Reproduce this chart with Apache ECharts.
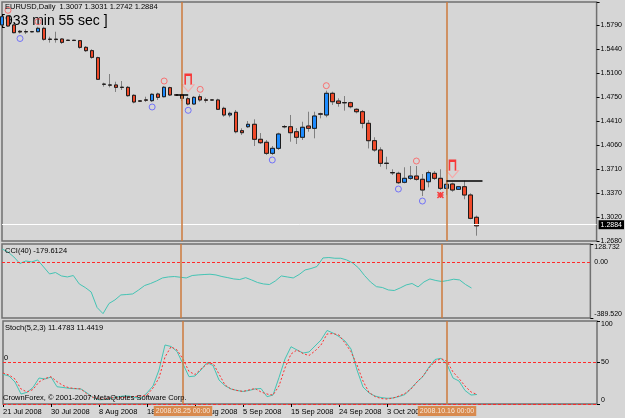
<!DOCTYPE html>
<html>
<head>
<meta charset="utf-8">
<script src="https://cdn.jsdelivr.net/npm/echarts@6/dist/echarts.min.js"></script>
<style>
html, body { margin: 0; padding: 0; background: #d6d6d6; }
#chart { width: 625px; height: 418px; }
</style>
</head>
<body>
<div id="chart"></div>
<script>
// daily bars (broker feed has Sunday bars)
var dates = ['2008.07.21','2008.07.22','2008.07.23','2008.07.24','2008.07.25','2008.07.27','2008.07.28','2008.07.29','2008.07.30','2008.07.31',
    '2008.08.01','2008.08.03','2008.08.04','2008.08.05','2008.08.06','2008.08.07','2008.08.08','2008.08.10','2008.08.11','2008.08.12',
    '2008.08.13','2008.08.14','2008.08.15','2008.08.17','2008.08.18','2008.08.19','2008.08.20','2008.08.21','2008.08.22','2008.08.24',
    '2008.08.25','2008.08.26','2008.08.27','2008.08.28','2008.08.29','2008.08.31','2008.09.01','2008.09.02','2008.09.03','2008.09.04',
    '2008.09.05','2008.09.07','2008.09.08','2008.09.09','2008.09.10','2008.09.11','2008.09.12','2008.09.14','2008.09.15','2008.09.16',
    '2008.09.17','2008.09.18','2008.09.19','2008.09.21','2008.09.22','2008.09.23','2008.09.24','2008.09.25','2008.09.26','2008.09.28',
    '2008.09.29','2008.09.30','2008.10.01','2008.10.02','2008.10.03','2008.10.05','2008.10.06','2008.10.07','2008.10.08','2008.10.09',
    '2008.10.10','2008.10.13','2008.10.14','2008.10.15','2008.10.16','2008.10.17','2008.10.19','2008.10.20','2008.10.21','2008.10.22'];

var opens = [1.5776,1.5905,1.5776,1.5685,1.5681,1.5680,1.5679,1.5728,1.5572,1.5572,
    1.5574,1.5557,1.5556,1.5550,1.5454,1.5406,1.5305,1.4924,1.4912,1.4912,
    1.4880,1.4878,1.4763,1.4683,1.4697,1.4686,1.4782,1.4743,1.4873,1.4770,
    1.4768,1.4714,1.4638,1.4743,1.4698,1.4697,1.4696,1.4576,1.4480,1.4519,
    1.4254,1.4311,1.4346,1.4130,1.4087,1.3928,1.4000,1.4314,1.4311,1.4239,
    1.4159,1.4321,1.4288,1.4496,1.4480,1.4792,1.4681,1.4659,1.4657,1.4562,
    1.4527,1.4360,1.4110,1.3976,1.3786,1.3651,1.3640,1.3511,1.3568,1.3601,
    1.3554,1.3519,1.3640,1.3568,1.3424,1.3486,1.3410,1.3447,1.3328,1.3007];
var highs = [1.5920,1.5915,1.5790,1.5704,1.5714,1.5690,1.5751,1.5751,1.5607,1.5679,
    1.5584,1.5565,1.5562,1.5560,1.5473,1.5426,1.5319,1.4945,1.5070,1.4959,
    1.4969,1.4897,1.4778,1.4695,1.4743,1.4792,1.4801,1.4897,1.4887,1.4780,
    1.4790,1.4743,1.4752,1.4777,1.4729,1.4706,1.4714,1.4599,1.4527,1.4552,
    1.4288,1.4393,1.4418,1.4220,1.4120,1.4033,1.4225,1.4336,1.4480,1.4292,
    1.4383,1.4527,1.4527,1.4513,1.4830,1.4815,1.4720,1.4753,1.4671,1.4576,
    1.4552,1.4408,1.4159,1.4015,1.3879,1.3698,1.3663,1.3727,1.3745,1.3745,
    1.3630,1.3678,1.3673,1.3698,1.3519,1.3505,1.3457,1.3534,1.3352,1.3031];
var lows = [1.5747,1.5747,1.5656,1.5653,1.5646,1.5670,1.5670,1.5550,1.5521,1.5521,
    1.5502,1.5545,1.5548,1.5434,1.5387,1.5290,1.4984,1.4888,1.4878,1.4811,
    1.4840,1.4743,1.4648,1.4667,1.4667,1.4667,1.4696,1.4734,1.4753,1.4755,
    1.4681,1.4619,1.4628,1.4671,1.4657,1.4686,1.4552,1.4455,1.4447,1.4216,
    1.4192,1.4292,1.4033,1.4062,1.3904,1.3904,1.3976,1.4288,1.4095,1.4062,
    1.4120,1.4239,1.4144,1.4432,1.4447,1.4624,1.4599,1.4542,1.4576,1.4504,
    1.4288,1.3998,1.3951,1.3735,1.3698,1.3616,1.3486,1.3496,1.3544,1.3534,
    1.3313,1.3438,1.3544,1.3400,1.3328,1.3375,1.3400,1.3266,1.2978,1.2742];
var closes = [1.5895,1.5761,1.5665,1.5675,1.5677,1.5678,1.5728,1.5570,1.5568,1.5566,
    1.5526,1.5553,1.5552,1.5454,1.5406,1.5310,1.4994,1.4922,1.4910,1.4878,
    1.4876,1.4758,1.4667,1.4679,1.4693,1.4778,1.4734,1.4879,1.4768,1.4766,
    1.4720,1.4638,1.4734,1.4696,1.4692,1.4695,1.4562,1.4480,1.4504,1.4239,
    1.4225,1.4346,1.4130,1.4081,1.3928,1.4000,1.4206,1.4309,1.4225,1.4159,
    1.4303,1.4288,1.4465,1.4492,1.4792,1.4671,1.4648,1.4655,1.4599,1.4527,
    1.4360,1.4110,1.3976,1.3784,1.3782,1.3647,1.3505,1.3568,1.3601,1.3554,
    1.3400,1.3649,1.3568,1.3424,1.3482,1.3400,1.3447,1.3328,1.2992,1.2884];

var cci = [94,73,38,-8,10,3,17,-32,-81,-71,
    -95,-102,-92,-151,-176,-207,-316,-359,-288,-263,
    -228,-225,-221,-193,-162,-148,-130,-109,-102,-99,
    -104,-109,-92,-88,-85,-83,-88,-99,-107,-116,
    -120,-107,-123,-141,-151,-155,-130,-95,-102,-109,
    -85,-53,-43,-29,31,34,29,29,17,-4,
    -39,-92,-137,-170,-176,-193,-197,-179,-158,-148,
    -172,-137,-116,-127,-134,-127,-118,-123,-155,-179.6124];

var stochMain = [35.8,33.7,26.5,12,14.1,19.9,31.3,30.1,32.5,20.8,
    19.9,18.9,18.4,18.1,13.3,7.8,5.1,5.4,6.9,8.4,
    9.6,9.6,7.8,6.9,13.3,21.7,41,71.1,69.3,63.3,
    48.2,32.9,33.7,41,50,46.4,28.9,22,18.1,16.3,
    15.1,16.3,18.1,18.7,8.8,10.8,31.9,54.2,69,65.1,
    61.4,62.7,69.9,77.1,88.6,85.5,81.3,75.9,66.3,41,
    20.5,13.3,9.6,7.8,6.9,7.2,9,11.4,18.7,26.5,
    33.1,44.6,53.6,55.1,47.6,31.3,27.7,16.3,10.8,11.4783];
var stochSignal = [37.3,34.9,30.1,18.1,14.5,17.5,26.5,30.7,32.9,26.9,
    22.3,19.5,18.7,18.1,12,8.1,6,6,7.6,7.6,
    7.8,8.4,9,9.6,10.8,19.3,31.3,56.6,69,65.1,
    54.2,39.2,35.5,42.2,48.2,49,36.1,22.9,18.1,16.3,
    15.1,16.9,18.7,14.5,12,10.8,21.7,43.4,60.2,65.1,
    60.8,58.4,63.9,71.1,84.3,84.9,83.1,73.5,63,47,
    27.7,13.9,9,6.6,6,7.2,9.6,12.7,18.1,26.5,
    33.7,43.4,51.2,54.8,51.4,38.6,30.7,21.7,14.5,11.4419];

var priceTicks = ['1.2680','1.3020','1.3370','1.3710','1.4060','1.4410','1.4750','1.5100','1.5440','1.5790'];
var xLabelIdx = [0, 8, 16, 24, 32, 40, 48, 56, 64];
var xLabels = ['21 Jul 2008','30 Jul 2008','8 Aug 2008','18 Aug 2008','27 Aug 2008','5 Sep 2008','15 Sep 2008','24 Sep 2008','3 Oct 2008'];

var fractalUp = [1, 6, 27, 33, 54, 69];
var fractalDown = [3, 25, 31, 45, 66, 70];
var arrowBars = [31, 75];
var crossBars = [73];
var vLines = ['2008.08.25', '2008.10.16'];
var hSegments = [[29, 31, 1.4768], [74, 80, 1.3534]];
var lastPrice = 1.2884;
var priceMin = 1.26656, priceMax = 1.61067;
var cciMin = -389.52, cciMax = 128.732;
var stochLevels = [0, 50];

var FONT = 'Liberation Sans, Arial, sans-serif';
var UP = '#1e8cff', DOWN = '#f04a2a', TEAL = '#44c4b4', VCOL = '#cc7a3c';
var TOTAL = 100;

var cats = dates.slice();
for (var k = dates.length; k < TOTAL; k++) cats.push('n' + k);

var candle = dates.map(function (d, i) { return [opens[i], closes[i], lows[i], highs[i]]; });
var bodies = dates.map(function (d, i) {
    return [opens[i], closes[i], Math.min(opens[i], closes[i]), Math.max(opens[i], closes[i])];
});
var last = dates.length - 1;

var vLineStyle = { color: VCOL, width: 1.5, type: 'solid' };
// vertical event lines as explicit segments spanning a panel's value range
function vLineData(lo, hi, withLabel) {
    return vLines.map(function (d) {
        var idx = dates.indexOf(d);
        var start = { coord: [idx, lo], lineStyle: vLineStyle };
        if (withLabel) {
            start.label = {
                show: true, position: 'start', distance: 2, formatter: d + ' 00:00',
                backgroundColor: '#d88a4e', color: '#f6e8da', padding: [2, 2, 1, 2],
                fontSize: 7, fontFamily: FONT
            };
        }
        return [start, { coord: [idx, hi] }];
    });
}

var textStyle = { fontSize: 7.5, fontWeight: 'normal', color: '#000', fontFamily: FONT };
function txt(s, left, top, extra) {
    return { text: s, left: left, top: top, padding: 0, textStyle: Object.assign({}, textStyle, extra || {}) };
}

var titles = [
    txt('EURUSD,Daily  ' + [opens[last], highs[last], lows[last], closes[last]].map(function (v) { return v.toFixed(4); }).join(' '), 5, 3),
    Object.assign(txt('[933 min 55 sec ]', 1, 14, { fontSize: 14 }), { z: 0 }),
    txt('CCI(40) ' + cci[last].toFixed(4), 5, 247),
    txt('Stoch(5,2,3) ' + stochMain[last].toFixed(4) + ' ' + stochSignal[last].toFixed(4), 5, 324),
    txt('CrownForex, \u00a9 2001-2007 MetaQuotes Software Corp.', 3, 394),
    txt('0', 4, 354)
];

var gridBase = { left: 2, right: 28, show: true, borderColor: '#707070', borderWidth: 1.5, backgroundColor: 'transparent' };

var option = {
    backgroundColor: '#d6d6d6',
    animation: false,
    title: titles,
    grid: [
        Object.assign({ top: 2, height: 239 }, gridBase),
        Object.assign({ top: 244, height: 74 }, gridBase),
        Object.assign({ top: 321, height: 83 }, gridBase)
    ],
    xAxis: [0, 1, 2].map(function (g) {
        var ax = {
            type: 'category', gridIndex: g, data: cats, boundaryGap: false,
            axisLine: { show: false }, axisTick: { show: false }, axisLabel: { show: false },
            splitLine: { show: false }
        };
        if (g === 2) {
            ax.axisLabel = {
                show: true, align: 'left', margin: 4, fontSize: 7.5, color: '#000', fontFamily: FONT,
                interval: function (idx) { return xLabelIdx.indexOf(idx) >= 0; },
                formatter: function (v, idx) { var p = xLabelIdx.indexOf(idx); return p >= 0 ? xLabels[p] : ''; }
            };
            ax.axisTick = {
                show: true, length: 3, lineStyle: { color: '#000' },
                interval: function (idx) { return xLabelIdx.indexOf(idx) >= 0; }
            };
        }
        return ax;
    }),
    yAxis: [
        { type: 'value', gridIndex: 0, min: priceMin, max: priceMax, show: false },
        {
            type: 'value', gridIndex: 0, position: 'right', min: 0, max: 239 / 24, interval: 1,
            axisLine: { show: false }, splitLine: { show: false },
            axisTick: { show: true, length: 3, lineStyle: { color: '#000' } },
            axisLabel: {
                margin: 4, fontSize: 7, color: '#000', fontFamily: FONT,
                formatter: function (v) { return (Math.abs(v - Math.round(v)) < 1e-6 && priceTicks[Math.round(v)]) || ''; }
            }
        },
        {
            type: 'value', gridIndex: 1, position: 'right', min: cciMin, max: cciMax, interval: cciMax - cciMin,
            axisLine: { show: false }, splitLine: { show: false },
            axisTick: { show: true, length: 3, lineStyle: { color: '#000' } },
            axisLabel: {
                margin: 4, fontSize: 7, color: '#000', fontFamily: FONT,
                verticalAlignMinLabel: 'bottom', verticalAlignMaxLabel: 'top',
                formatter: function (v) { return v.toFixed(3); }
            }
        },
        {
            type: 'value', gridIndex: 2, position: 'right', min: 0, max: 100, interval: 50,
            axisLine: { show: false }, splitLine: { show: false },
            axisTick: { show: true, length: 3, lineStyle: { color: '#000' } },
            axisLabel: {
                margin: 4, fontSize: 7, color: '#000', fontFamily: FONT,
                verticalAlignMinLabel: 'bottom', verticalAlignMaxLabel: 'top'
            }
        }
    ],
    series: [
        {
            name: 'wicks', type: 'candlestick', xAxisIndex: 0, yAxisIndex: 0, data: candle,
            barWidth: 4, silent: true,
            itemStyle: { color: UP, color0: DOWN, borderColor: '#808080', borderColor0: '#808080', borderWidth: 1 },
            markLine: {
                silent: true, symbol: ['none', 'none'], animation: false,
                label: { show: false },
                data: [
                    {
                        yAxis: lastPrice, lineStyle: { color: '#ffffff', width: 1, type: 'solid' },
                        label: {
                            show: true, position: 'end', distance: 2, formatter: lastPrice.toFixed(4),
                            backgroundColor: '#000', color: '#fff', padding: [1, 2, 1, 2],
                            fontSize: 7, fontFamily: FONT
                        }
                    }
                ].concat(vLineData(priceMin, priceMax, false))
                 .concat(hSegments.map(function (s) {
                    return [{ coord: [s[0], s[2]], lineStyle: { color: '#000', width: 1.5, type: 'solid' } },
                            { coord: [s[1], s[2]] }];
                 }))
            }
        },
        {
            name: 'bodies', type: 'candlestick', xAxisIndex: 0, yAxisIndex: 0, data: bodies,
            barWidth: 4, silent: true,
            itemStyle: { color: UP, color0: DOWN, borderColor: '#1c1c1c', borderColor0: '#1c1c1c', borderWidth: 1 }
        },
        {
            name: 'fractal up', type: 'scatter', xAxisIndex: 0, yAxisIndex: 0, silent: true,
            data: fractalUp.map(function (i) { return [i, highs[i]]; }),
            symbol: 'circle', symbolSize: 6, symbolOffset: [0, -5],
            itemStyle: { color: 'rgba(0,0,0,0)', borderColor: '#ff5a5a', borderWidth: 1 }
        },
        {
            name: 'fractal down', type: 'scatter', xAxisIndex: 0, yAxisIndex: 0, silent: true,
            data: fractalDown.map(function (i) { return [i, lows[i]]; }),
            symbol: 'circle', symbolSize: 6, symbolOffset: [0, 5],
            itemStyle: { color: 'rgba(0,0,0,0)', borderColor: '#5a5aff', borderWidth: 1 }
        },
        {
            name: 'arrow shaft', type: 'scatter', xAxisIndex: 0, yAxisIndex: 0, silent: true,
            data: arrowBars.map(function (i) { return [i, highs[i]]; }),
            symbol: 'path://M0,10L0,0L6,0L6,10', symbolSize: [6, 10], symbolOffset: [0, -17],
            itemStyle: { color: 'rgba(0,0,0,0)', borderColor: '#ff1010', borderWidth: 2 }
        },
        {
            name: 'arrow head', type: 'scatter', xAxisIndex: 0, yAxisIndex: 0, silent: true,
            data: arrowBars.map(function (i) { return [i, highs[i]]; }),
            symbol: 'path://M3,0L0,0L6,7L12,0L9,0', symbolSize: [12, 7], symbolOffset: [0, -8.5],
            itemStyle: { color: 'rgba(0,0,0,0)', borderColor: '#ff9c9c', borderWidth: 1 }
        },
        {
            name: 'cross', type: 'scatter', xAxisIndex: 0, yAxisIndex: 0, silent: true,
            data: crossBars.map(function (i) { return [i, lows[i]]; }),
            symbol: 'path://M0,0L6,6M6,0L0,6M3,0L3,6M0,3L6,3', symbolSize: 6, symbolOffset: [0, 5],
            itemStyle: { color: 'rgba(0,0,0,0)', borderColor: '#ff1a1a', borderWidth: 1.5 }
        },
        {
            name: 'CCI', type: 'line', xAxisIndex: 1, yAxisIndex: 2, data: cci, showSymbol: false, silent: true,
            lineStyle: { color: TEAL, width: 1 },
            markLine: {
                silent: true, symbol: ['none', 'none'], animation: false, label: { show: false },
                data: [
                    {
                        yAxis: 0, lineStyle: { color: '#ff2a2a', width: 1, type: [3, 2] },
                        label: { show: true, position: 'end', distance: 4, formatter: '0.00', fontSize: 7, color: '#000', fontFamily: FONT }
                    }
                ].concat(vLineData(cciMin, cciMax, false))
            }
        },
        {
            name: 'Stoch', type: 'line', xAxisIndex: 2, yAxisIndex: 3, data: stochMain, showSymbol: false, silent: true,
            lineStyle: { color: TEAL, width: 1 },
            markLine: {
                silent: true, symbol: ['none', 'none'], animation: false, label: { show: false },
                data: stochLevels.map(function (v) {
                    return { yAxis: v, lineStyle: { color: '#ff2a2a', width: 1, type: [3, 2] } };
                }).concat(vLineData(0, 100, true))
            }
        },
        {
            name: 'Signal', type: 'line', xAxisIndex: 2, yAxisIndex: 3, data: stochSignal, showSymbol: false, silent: true,
            lineStyle: { color: '#ff3030', width: 1, type: [2, 2] }
        }
    ]
};

var chart = echarts.init(document.getElementById('chart'));
chart.setOption(option);
</script>
</body>
</html>
